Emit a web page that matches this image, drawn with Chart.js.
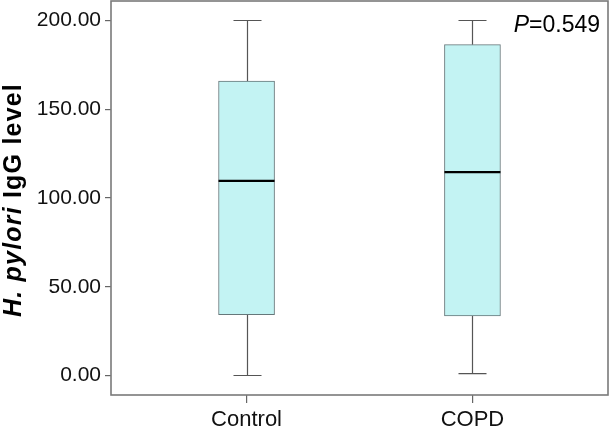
<!DOCTYPE html>
<html>
<head>
<meta charset="utf-8">
<script src="https://cdn.jsdelivr.net/npm/chart.js@4.4.1/dist/chart.umd.min.js"></script>
<style>
  html, body { margin: 0; padding: 0; background: #fff; }
  #wrap { width: 612px; height: 429px; }
</style>
</head>
<body>
<div id="wrap"><canvas id="boxchart" width="612" height="429"></canvas></div>
<script>
// box plot values
const groups = ['Control', 'COPD'];
const positions = [1, 2];
const whiskerLow = [0, 1];
const q1 = [34.3, 33.5];
const median = [109.6, 114.6];
const q3 = [165.9, 186.4];
const whiskerHigh = [200, 200];
const yTicks = [0, 50, 100, 150, 200];
const pLabel = 'P';
const pText = '=0.549';

const FONT = "'Liberation Sans', Arial, sans-serif";

const chartAreaBorder = {
    id: 'chartAreaBorder',
    afterDraw(chart, args, options) {
        const { ctx, chartArea: { left, top, width, height } } = chart;
        ctx.save();
        ctx.strokeStyle = options.borderColor;
        ctx.lineWidth = options.borderWidth;
        ctx.strokeRect(left, top, width, height);
        ctx.restore();
    }
};

// whiskers + median, drawn through the scales
const boxParts = {
    id: 'boxParts',
    beforeDatasetsDraw(chart) {
        const { ctx, scales: { x, y } } = chart;
        ctx.save();
        ctx.strokeStyle = '#555';
        ctx.lineWidth = 1.2;
        positions.forEach(function (p, i) {
            const cx = Math.round(x.getPixelForValue(p)) + 0.5;
            const cap = 14;
            ctx.beginPath();
            ctx.moveTo(cx, y.getPixelForValue(whiskerHigh[i]));
            ctx.lineTo(cx, y.getPixelForValue(q3[i]));
            ctx.moveTo(cx, y.getPixelForValue(q1[i]));
            ctx.lineTo(cx, y.getPixelForValue(whiskerLow[i]));
            ctx.moveTo(cx - cap, y.getPixelForValue(whiskerHigh[i]));
            ctx.lineTo(cx + cap, y.getPixelForValue(whiskerHigh[i]));
            ctx.moveTo(cx - cap, y.getPixelForValue(whiskerLow[i]));
            ctx.lineTo(cx + cap, y.getPixelForValue(whiskerLow[i]));
            ctx.stroke();
        });
        ctx.restore();
    },
    afterDatasetsDraw(chart) {
        const { ctx, scales: { x, y } } = chart;
        const bars = chart.getDatasetMeta(0).data;
        ctx.save();
        ctx.strokeStyle = '#000';
        ctx.lineWidth = 2.2;
        positions.forEach(function (p, i) {
            const half = bars[i].width / 2;
            const cx = x.getPixelForValue(p);
            const my = y.getPixelForValue(median[i]);
            ctx.beginPath();
            ctx.moveTo(cx - half, my);
            ctx.lineTo(cx + half, my);
            ctx.stroke();
        });
        ctx.restore();
    }
};

// y title with mixed italic, plus the P value
const texts = {
    id: 'texts',
    afterDraw(chart) {
        const { ctx, chartArea } = chart;
        ctx.save();
        ctx.fillStyle = '#000';
        ctx.textBaseline = 'alphabetic';
        ctx.letterSpacing = '1.2px';
        const f1 = 'italic bold 25px ' + FONT;
        const f2 = 'bold 25px ' + FONT;
        ctx.font = f1;
        const w1 = ctx.measureText('H. pylori').width;
        ctx.font = f2;
        const w2 = ctx.measureText(' IgG level').width;
        ctx.translate(21, 200);
        ctx.rotate(-Math.PI / 2);
        const start = -(w1 + w2) / 2;
        ctx.font = f1;
        ctx.textAlign = 'left';
        ctx.fillText('H. pylori', start, 0);
        ctx.font = f2;
        ctx.fillText(' IgG level', start + w1, 0);
        ctx.restore();

        ctx.save();
        ctx.fillStyle = '#000';
        ctx.textBaseline = 'alphabetic';
        ctx.textAlign = 'left';
        ctx.font = 'italic 23px ' + FONT;
        const pw = ctx.measureText(pLabel).width;
        ctx.font = '23px ' + FONT;
        const tw = ctx.measureText(pText).width;
        const px = 600 - pw - tw;
        const py = 32;
        ctx.font = 'italic 23px ' + FONT;
        ctx.fillText(pLabel, px, py);
        ctx.font = '23px ' + FONT;
        ctx.fillText(pText, px + pw, py);
        ctx.restore();
    }
};

const boxData = positions.map(function (p, i) {
    return { x: p, y: [q1[i], q3[i]] };
});

new Chart(document.getElementById('boxchart'), {
    type: 'bar',
    data: {
        datasets: [{
            data: boxData,
            backgroundColor: '#c3f3f3',
            borderColor: '#66777a',
            borderWidth: 1,
            borderSkipped: false,
            barThickness: 56
        }]
    },
    options: {
        responsive: false,
        animation: false,
        layout: { padding: { top: 1, right: 4, left: 0, bottom: 0 } },
        plugins: {
            legend: { display: false },
            tooltip: { enabled: false },
            chartAreaBorder: { borderColor: '#7a7a7a', borderWidth: 1.6 }
        },
        scales: {
            x: {
                type: 'linear',
                min: 0.4,
                max: 2.6,
                offset: false,
                afterBuildTicks(scale) {
                    scale.ticks = positions.map(function (v) { return { value: v }; });
                },
                afterFit(scale) {
                    scale.height = 34;
                    scale.paddingLeft = 0;
                    scale.paddingRight = 0;
                },
                border: { display: false },
                grid: { offset: false, drawOnChartArea: false, drawTicks: true, tickLength: 8, color: '#666', lineWidth: 1.2 },
                ticks: {
                    color: '#111',
                    font: { family: FONT, size: 22 },
                    padding: 4,
                    maxRotation: 0,
                    callback: function (v) {
                        const i = positions.indexOf(v);
                        return i >= 0 ? groups[i] : '';
                    }
                }
            },
            y: {
                min: -11,
                max: 211,
                afterBuildTicks(scale) {
                    scale.ticks = yTicks.map(function (v) { return { value: v }; });
                },
                afterFit(scale) {
                    scale.width = 111;
                    scale.paddingTop = 0;
                    scale.paddingBottom = 0;
                },
                border: { display: false },
                grid: { drawOnChartArea: false, drawTicks: true, tickLength: 6, color: '#666', lineWidth: 1.2 },
                ticks: {
                    color: '#111',
                    font: { family: FONT, size: 21 },
                    padding: 4,
                    callback: function (v) { return v.toFixed(2); }
                }
            }
        }
    },
    plugins: [chartAreaBorder, boxParts, texts]
});
</script>
</body>
</html>
